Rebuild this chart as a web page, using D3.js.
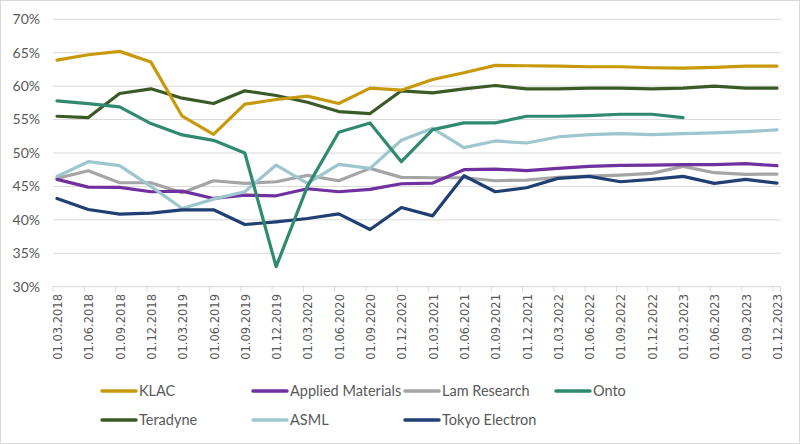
<!DOCTYPE html>
<html><head><meta charset="utf-8">
<script src="https://cdn.jsdelivr.net/npm/d3@7"></script>
<style>
html,body{margin:0;padding:0;background:#fff;}
svg{display:block;}
</style></head>
<body>
<svg id="chart" width="800" height="444"></svg>
<script>
const dates = ["01.03.2018","01.06.2018","01.09.2018","01.12.2018","01.03.2019","01.06.2019","01.09.2019","01.12.2019","01.03.2020","01.06.2020","01.09.2020","01.12.2020","01.03.2021","01.06.2021","01.09.2021","01.12.2021","01.03.2022","01.06.2022","01.09.2022","01.12.2022","01.03.2023","01.06.2023","01.09.2023","01.12.2023"];
const yTicks = [30,35,40,45,50,55,60,65,70];

const klac = [63.9,64.7,65.2,63.6,55.5,52.8,57.3,58.0,58.5,57.4,59.7,59.4,61.0,62.0,63.1,63.05,63.0,62.9,62.9,62.75,62.7,62.8,63.0,63.0];
const appliedMaterials = [46.05,44.9,44.85,44.2,44.3,43.2,43.7,43.6,44.65,44.2,44.55,45.4,45.5,47.5,47.6,47.35,47.7,48.0,48.15,48.2,48.25,48.25,48.4,48.1];
const lamResearch = [46.2,47.35,45.55,45.55,44.05,45.85,45.45,45.7,46.65,45.85,47.7,46.35,46.3,46.3,45.85,45.95,46.35,46.55,46.7,46.95,48.0,47.05,46.8,46.85];
const onto = [57.8,57.4,56.9,54.4,52.7,51.9,50.0,33.0,45.0,53.1,54.5,48.7,53.5,54.5,54.5,55.5,55.5,55.6,55.8,55.8,55.3,null,null,null];
const teradyne = [55.5,55.3,58.9,59.6,58.2,57.4,59.3,58.6,57.6,56.2,55.9,59.3,59.0,59.6,60.1,59.6,59.6,59.7,59.7,59.6,59.7,60.0,59.7,59.7];
const asml = [46.5,48.7,48.1,45.0,41.7,43.1,44.2,48.2,45.45,48.3,47.7,51.9,53.7,50.8,51.8,51.5,52.4,52.75,52.9,52.75,52.9,53.0,53.2,53.45];
const tokyoElectron = [43.2,41.55,40.85,41.0,41.5,41.5,39.3,39.7,40.2,40.9,38.55,41.85,40.6,46.6,44.2,44.8,46.2,46.5,45.7,46.05,46.5,45.45,46.05,45.5];

const seriesNames = ["KLAC","Applied Materials","Lam Research","Onto","Teradyne","ASML","Tokyo Electron"];
const seriesValues = [klac, appliedMaterials, lamResearch, onto, teradyne, asml, tokyoElectron];
const seriesColors = ["#C9990C","#7030A0","#A5A5A5","#2F8A70","#3A5A26","#9DC6CF","#203F73"];
const drawOrder = [2,1,5,6,4,0,3];

const svg = d3.select("#chart");
const font = "Lato,'Open Sans',sans-serif";

// border
svg.append("rect").attr("x",0.5).attr("y",0.5).attr("width",799).attr("height",443)
  .attr("fill","#fff").attr("stroke","#D9D9D9").attr("stroke-width",1);

const left = 53, right = 781;
const x = d3.scalePoint().domain(dates).range([57, 777]);
const y = d3.scaleLinear().domain([30,70]).range([286.7, 19.3]);

// gridlines
svg.append("g").selectAll("line").data(yTicks.filter(t=>t>30)).join("line")
  .attr("x1",left).attr("x2",right)
  .attr("y1",d=>y(d)).attr("y2",d=>y(d))
  .attr("stroke","#D9D9D9").attr("stroke-width",1);

// y labels
svg.append("g").selectAll("text").data(yTicks).join("text")
  .attr("x",40).attr("y",d=>y(d)).attr("dy","0.35em")
  .attr("text-anchor","end").attr("font-family",font).attr("font-size",14)
  .attr("fill","#595959").text(d=>d+"%");

// x axis line and ticks
svg.append("line").attr("x1",left).attr("x2",right).attr("y1",y(30)).attr("y2",y(30))
  .attr("stroke","#D9D9D9").attr("stroke-width",1);
svg.append("g").selectAll("line").data(dates).join("line")
  .attr("x1",d=>x(d)-4).attr("x2",d=>x(d)-4)
  .attr("y1",y(30)).attr("y2",y(30)+5)
  .attr("stroke","#D9D9D9");
svg.append("line").attr("x1",right-0.5).attr("x2",right-0.5).attr("y1",y(30)).attr("y2",y(30)+5).attr("stroke","#D9D9D9");

// x labels
svg.append("g").selectAll("text").data(dates).join("text")
  .attr("transform",d=>`translate(${x(d)+5},294) rotate(-90)`)
  .attr("text-anchor","end").attr("font-family","'DejaVu Sans',sans-serif").attr("font-size",11.5)
  .attr("fill","#595959").text(d=>d);

// lines
const line = d3.line().defined(d=>d.v!=null).x(d=>x(d.date)).y(d=>y(d.v));
const g = svg.append("g");
drawOrder.forEach(i=>{
  const data = dates.map((dt,j)=>({date:dt, v:seriesValues[i][j]}));
  g.append("path").datum(data).attr("d",line)
    .attr("fill","none").attr("stroke",seriesColors[i]).attr("stroke-width",3.2)
    .attr("stroke-linejoin","round").attr("stroke-linecap","round");
});

// legend
const legendPos = [[102,391],[253,391],[405,391],[556,391],[102,420],[253,420],[405,420]];
const lg = svg.append("g");
seriesNames.forEach((n,i)=>{
  const [lx,ly] = legendPos[i];
  lg.append("line").attr("x1",lx).attr("x2",lx+34).attr("y1",ly).attr("y2",ly)
    .attr("stroke",seriesColors[i]).attr("stroke-width",3.5).attr("stroke-linecap","round");
  lg.append("text").attr("x",lx+37).attr("y",ly).attr("dy","0.35em")
    .attr("font-family",font).attr("font-size",14.5).attr("fill","#595959").text(n);
});
</script>
</body></html>
